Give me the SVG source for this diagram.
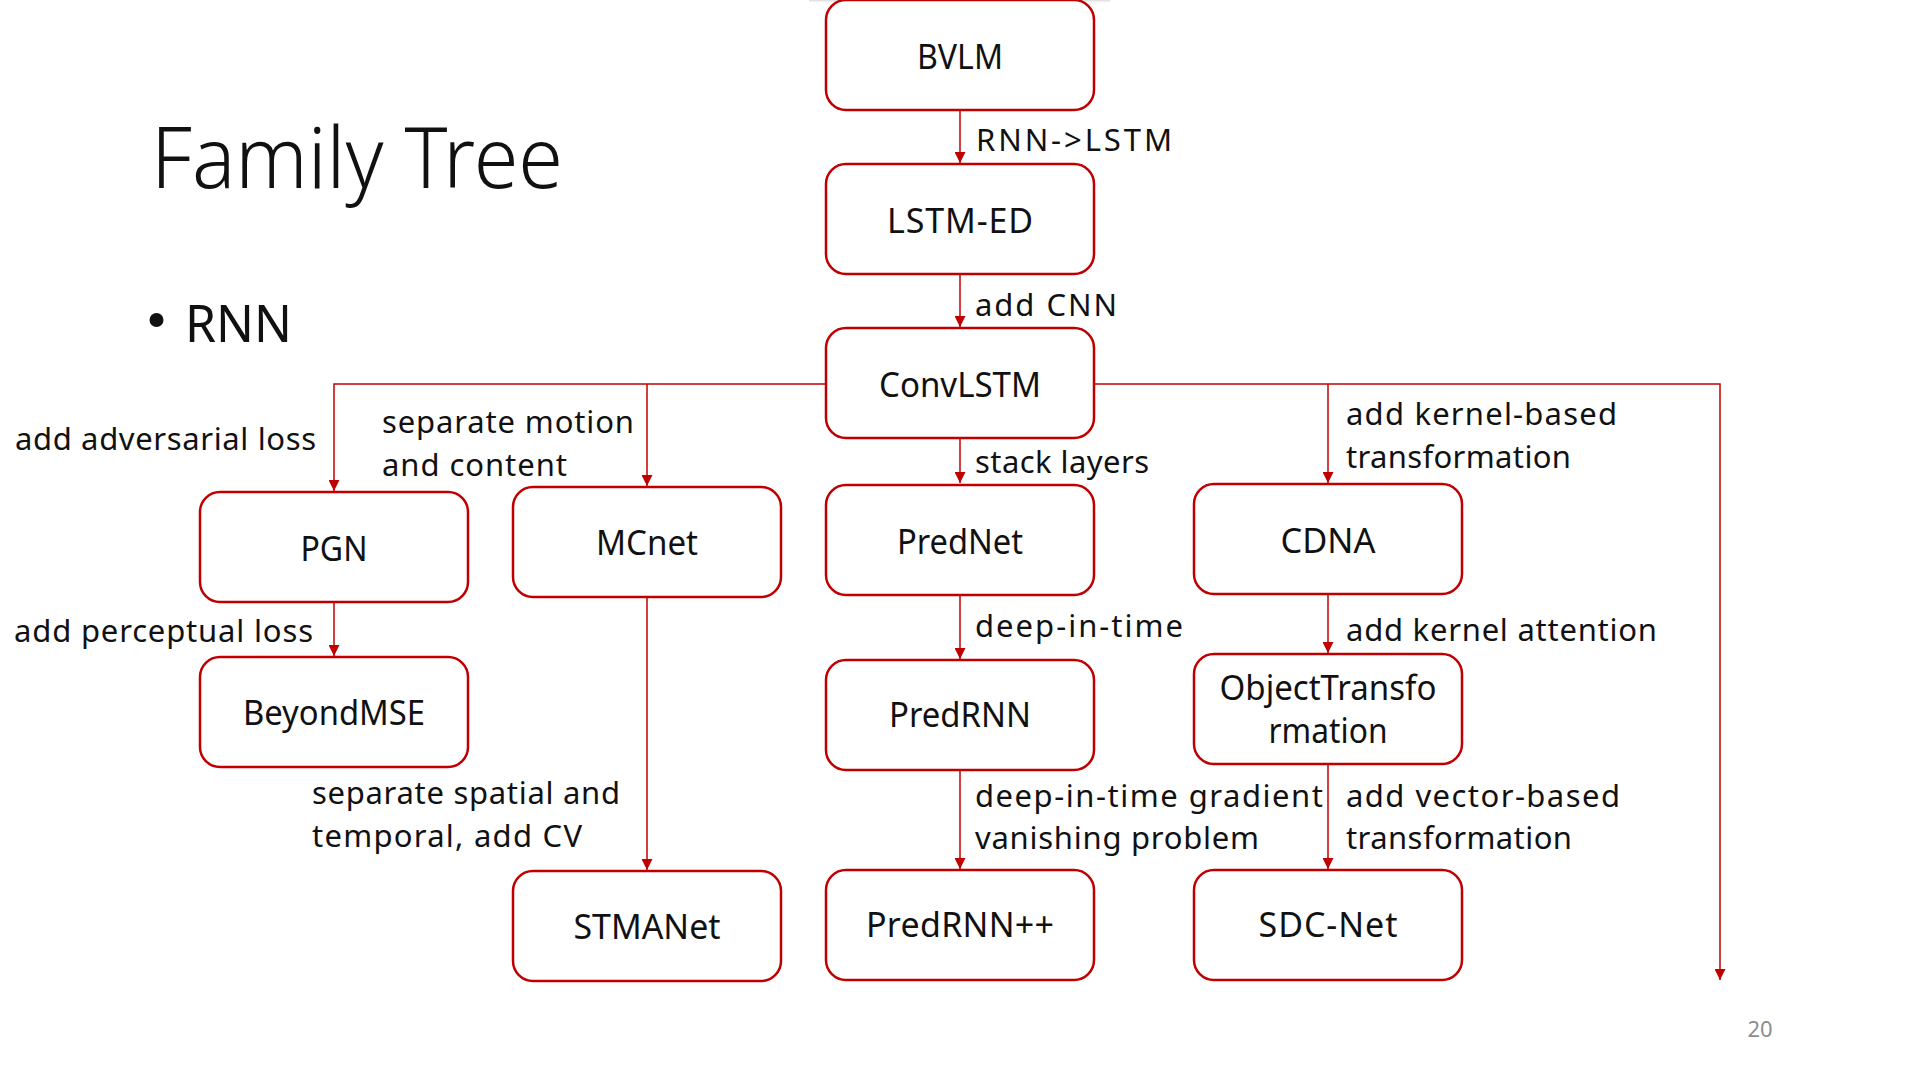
<svg xmlns="http://www.w3.org/2000/svg" width="1920" height="1080" viewBox="0 0 1920 1080">
<style>
  .node rect { fill: #ffffff; stroke: #C00000; stroke-width: 2.5; }
  .node text { font-family: "Noto Sans", "Open Sans", "Liberation Sans", sans-serif; font-size: 34px; fill: #111111; text-anchor: middle; }
  .lbl { font-family: "Noto Sans", "Open Sans", "Liberation Sans", sans-serif; font-size: 31px; fill: #111111; }
  .conn { fill: none; stroke: #C00000; stroke-width: 1.5; }
  .arr { marker-end: url(#ah); }
</style>
<defs>
  <marker id="ah" markerUnits="userSpaceOnUse" markerWidth="11" markerHeight="11" viewBox="0 0 10 10" refX="10" refY="5" orient="auto">
    <path d="M0,0 L10,5 L0,10 z" fill="#C00000"/>
  </marker>
</defs>
<rect width="1920" height="1080" fill="#ffffff"/>
<rect x="809" y="0" width="301" height="1.5" fill="#E2E2E2"/>
<rect x="929" y="0" width="60" height="2" fill="#E00010"/>

<text x="151" y="188" textLength="412" lengthAdjust="spacingAndGlyphs" font-family="Noto Sans, Open Sans, Liberation Sans, sans-serif" font-weight="300" font-size="84" fill="#111111">Family Tree</text>
<circle cx="156.5" cy="320" r="7" fill="#111111"/>
<text x="185" y="342" textLength="107" lengthAdjust="spacingAndGlyphs" font-family="Noto Sans, Open Sans, Liberation Sans, sans-serif" font-size="51" fill="#111111">RNN</text>
<text x="1760" y="1037" text-anchor="middle" font-family="Noto Sans, Open Sans, Liberation Sans, sans-serif" font-size="22" fill="#8C8C8C">20</text>

<g id="connectors">
  <path class="conn arr" d="M960,110 V163"/>
  <path class="conn arr" d="M960,274 V327"/>
  <path class="conn arr" d="M960,438 V483"/>
  <path class="conn arr" d="M960,595 V659"/>
  <path class="conn arr" d="M960,770 V869"/>
  <path class="conn arr" d="M826,384 H334 V491"/>
  <path class="conn arr" d="M647,384 V486"/>
  <path class="conn arr" d="M334,602 V656"/>
  <path class="conn arr" d="M647,597 V870"/>
  <path class="conn arr" d="M1094,384 H1720 V980"/>
  <path class="conn arr" d="M1328,384 V483"/>
  <path class="conn arr" d="M1328,594 V653"/>
  <path class="conn arr" d="M1328,764 V869"/>
</g>

<g id="labels">
  <text class="lbl" x="976" y="151" textLength="196" lengthAdjust="spacing">RNN-&gt;LSTM</text>
  <text class="lbl" x="975" y="316" textLength="142" lengthAdjust="spacing">add CNN</text>
  <text class="lbl" x="975" y="473" textLength="174" lengthAdjust="spacing">stack layers</text>
  <text class="lbl" x="975" y="637" textLength="208" lengthAdjust="spacing">deep-in-time</text>
  <text class="lbl" x="975" y="807" textLength="348" lengthAdjust="spacing">deep-in-time gradient</text>
  <text class="lbl" x="975" y="849" textLength="284" lengthAdjust="spacing">vanishing problem</text>
  <text class="lbl" x="15" y="450" textLength="301" lengthAdjust="spacing">add adversarial loss</text>
  <text class="lbl" x="14" y="642" textLength="299" lengthAdjust="spacing">add perceptual loss</text>
  <text class="lbl" x="382" y="433" textLength="252" lengthAdjust="spacing">separate motion</text>
  <text class="lbl" x="382" y="476" textLength="185" lengthAdjust="spacing">and content</text>
  <text class="lbl" x="312" y="804" textLength="308" lengthAdjust="spacing">separate spatial and</text>
  <text class="lbl" x="312" y="847" textLength="270" lengthAdjust="spacing">temporal, add CV</text>
  <text class="lbl" x="1346" y="425" textLength="271" lengthAdjust="spacing">add kernel-based</text>
  <text class="lbl" x="1346" y="468" textLength="225" lengthAdjust="spacing">transformation</text>
  <text class="lbl" x="1346" y="641" textLength="311" lengthAdjust="spacing">add kernel attention</text>
  <text class="lbl" x="1346" y="807" textLength="274" lengthAdjust="spacing">add vector-based</text>
  <text class="lbl" x="1346" y="849" textLength="226" lengthAdjust="spacing">transformation</text>
</g>

<g id="BVLM" class="node"><rect x="826" y="0" width="268" height="110" rx="20"/><text x="960" y="69" textLength="86" lengthAdjust="spacingAndGlyphs">BVLM</text></g>
<g id="LSTM-ED" class="node"><rect x="826" y="164" width="268" height="110" rx="20"/><text x="960" y="233" textLength="146" lengthAdjust="spacing">LSTM-ED</text></g>
<g id="ConvLSTM" class="node"><rect x="826" y="328" width="268" height="110" rx="20"/><text x="960" y="397" textLength="162" lengthAdjust="spacingAndGlyphs">ConvLSTM</text></g>
<g id="PredNet" class="node"><rect x="826" y="485" width="268" height="110" rx="20"/><text x="960" y="554" textLength="126" lengthAdjust="spacingAndGlyphs">PredNet</text></g>
<g id="PredRNN" class="node"><rect x="826" y="660" width="268" height="110" rx="20"/><text x="960" y="727" textLength="142" lengthAdjust="spacingAndGlyphs">PredRNN</text></g>
<g id="PredRNNpp" class="node"><rect x="826" y="870" width="268" height="110" rx="20"/><text x="960" y="937" textLength="188" lengthAdjust="spacing">PredRNN++</text></g>
<g id="PGN" class="node"><rect x="200" y="492" width="268" height="110" rx="20"/><text x="334" y="561" textLength="67" lengthAdjust="spacingAndGlyphs">PGN</text></g>
<g id="BeyondMSE" class="node"><rect x="200" y="657" width="268" height="110" rx="20"/><text x="334" y="725" textLength="182" lengthAdjust="spacingAndGlyphs">BeyondMSE</text></g>
<g id="MCnet" class="node"><rect x="513" y="487" width="268" height="110" rx="20"/><text x="647" y="555" textLength="102" lengthAdjust="spacingAndGlyphs">MCnet</text></g>
<g id="STMANet" class="node"><rect x="513" y="871" width="268" height="110" rx="20"/><text x="647" y="939" textLength="147" lengthAdjust="spacingAndGlyphs">STMANet</text></g>
<g id="CDNA" class="node"><rect x="1194" y="484" width="268" height="110" rx="20"/><text x="1328" y="553" textLength="95" lengthAdjust="spacingAndGlyphs">CDNA</text></g>
<g id="ObjectTransformation" class="node"><rect x="1194" y="654" width="268" height="110" rx="20"/><text x="1328" y="700" textLength="217" lengthAdjust="spacingAndGlyphs">ObjectTransfo</text><text x="1328" y="743" textLength="119" lengthAdjust="spacingAndGlyphs">rmation</text></g>
<g id="SDC-Net" class="node"><rect x="1194" y="870" width="268" height="110" rx="20"/><text x="1328" y="937" textLength="139" lengthAdjust="spacing">SDC-Net</text></g>
</svg>
